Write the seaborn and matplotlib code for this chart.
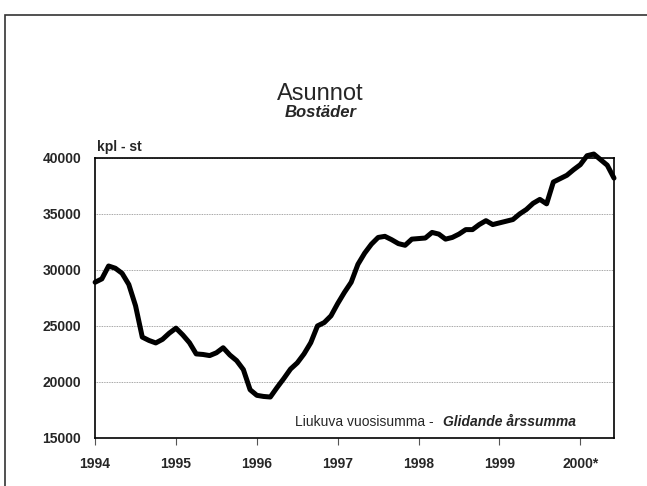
## bibliotecas
import numpy as np
import pandas as pd
import matplotlib.pyplot as plt
import seaborn as sns

## dados mensais: jan/1994 - jun/2000 (liukuva vuosisumma)
vuodet = ['1994', '1995', '1996', '1997', '1998', '1999', '2000*']
arvot_1994 = [28900, 29200, 30350, 30150, 29700, 28700, 26800, 24000, 23700, 23480, 23800, 24350]
arvot_1995 = [24800, 24200, 23500, 22500, 22450, 22350, 22600, 23050, 22400, 21900, 21100, 19300]
arvot_1996 = [18800, 18700, 18650, 19500, 20300, 21150, 21700, 22500, 23500, 25000, 25300, 25900]
arvot_1997 = [27000, 28000, 28900, 30500, 31500, 32300, 32900, 33000, 32700, 32350, 32200, 32750]
arvot_1998 = [32800, 32850, 33350, 33200, 32750, 32900, 33200, 33600, 33600, 34050, 34400, 34050]
arvot_1999 = [34200, 34350, 34500, 35000, 35400, 35950, 36300, 35900, 37850, 38150, 38450, 38950]
arvot_2000 = [39400, 40200, 40350, 39850, 39350, 38200]
y_ticks = [15000, 20000, 25000, 30000, 35000, 40000]

arvot = arvot_1994 + arvot_1995 + arvot_1996 + arvot_1997 + arvot_1998 + arvot_1999 + arvot_2000
df = pd.DataFrame({'aika': 1994 + np.arange(len(arvot)) / 12, 'asunnot': arvot})

## estilo
sns.set_style('white')
plt.rcParams['font.family'] = ['Liberation Sans', 'DejaVu Sans']

fig = plt.figure(figsize=(6.47, 4.86), dpi=100)
ax = fig.add_axes([0.147, 0.099, 0.802, 0.576])

## linha
sns.lineplot(data=df, x='aika', y='asunnot', color='black', linewidth=3.6, ax=ax)
for ln in ax.lines:
    ln.set_clip_on(False)
    ln.set_solid_joinstyle('round')

## eixos
ax.set_xlim(1994, 1994 + 77 / 12)
ax.set_ylim(15000, 40000)
ax.set_xticks(np.arange(1994, 2001))
ax.set_xticklabels(vuodet, fontweight='bold', fontsize=10)
ax.set_yticks(y_ticks)
ax.set_yticklabels([str(v) for v in y_ticks], fontweight='bold', fontsize=10)
ax.set_xlabel('')
ax.set_ylabel('')
ax.tick_params(axis='x', bottom=True, direction='out', length=5, width=0.8,
               color='#555555', pad=9)
ax.tick_params(axis='y', length=0, pad=10)
ax.grid(axis='y', linestyle=(0, (1, 1)), color='#888888', linewidth=0.6)
for s in ax.spines.values():
    s.set_color('black')
    s.set_linewidth(1.2)

## textos
fig.text(0.495, 0.795, 'Asunnot', ha='center', va='baseline', fontsize=17)
fig.text(0.495, 0.76, 'Bostäder', ha='center', va='baseline', fontsize=12,
         fontstyle='italic', fontweight='bold')
ax.text(0.003, 1.015, 'kpl - st', transform=ax.transAxes, ha='left', va='bottom',
        fontsize=10, fontweight='bold')
ax.text(0.652, 0.03, 'Liukuva vuosisumma -', transform=ax.transAxes, ha='right',
        va='bottom', fontsize=10)
ax.text(0.927, 0.03, 'Glidande årssumma', transform=ax.transAxes, ha='right',
        va='bottom', fontsize=10, fontstyle='italic', fontweight='bold')

## moldura externa
fig.add_artist(plt.Rectangle((0.008, -0.02), 1.0, 0.99, transform=fig.transFigure,
                             fill=False, edgecolor='#333333', linewidth=1.2))

plt.savefig('out.png', dpi=100)
plt.close()
